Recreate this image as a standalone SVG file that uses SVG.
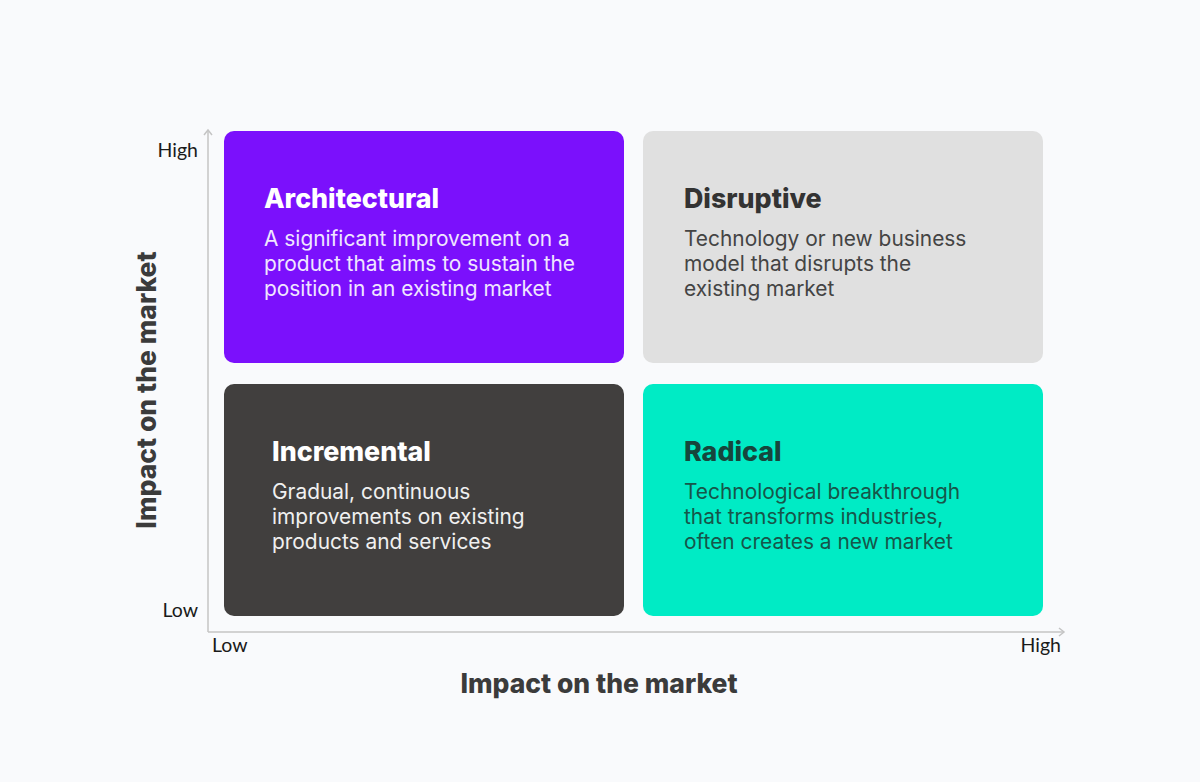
<svg xmlns="http://www.w3.org/2000/svg" width="1200" height="782" viewBox="0 0 1200 782">
<style>
.t{font-family:Inter,"Liberation Sans",sans-serif;font-weight:800;font-size:26.8px}
.b{font-family:Inter,"Liberation Sans",sans-serif;font-size:20.9px}
.tick{font-family:Lato,"Liberation Sans",sans-serif;font-size:19.5px;fill:#1a1a1a}
.ax{font-family:Inter,"Liberation Sans",sans-serif;font-weight:800;font-size:26.5px;fill:#3b3b3b}
.axis{stroke:#c4c4c4;stroke-width:1.5;fill:none}
</style>
<defs>
<marker id="chev" markerWidth="10" markerHeight="10" refX="7" refY="5" orient="auto" markerUnits="userSpaceOnUse">
<path d="M2,1 L7,5 L2,9" fill="none" stroke="#c4c4c4" stroke-width="1.5"/>
</marker>
</defs>
<rect width="1200" height="782" fill="#f9fafc"/>
<g id="connectors">
<line class="axis" x1="208" y1="632" x2="208" y2="130" marker-end="url(#chev)"/>
<line class="axis" x1="208" y1="632" x2="1064" y2="632" marker-end="url(#chev)"/>
</g>
<g id="architectural">
<rect x="224" y="131" width="400" height="232" rx="10" fill="#7b10fc"/>
<text class="t" x="264" y="208" fill="#ffffff">Architectural</text>
<text class="b" fill="#f0e6ff"><tspan x="264" y="246">A significant improvement on a</tspan><tspan x="264" y="271">product that aims to sustain the</tspan><tspan x="264" y="296">position in an existing market</tspan></text>
</g>
<g id="disruptive">
<rect x="643" y="131" width="400" height="232" rx="10" fill="#e0e0e0"/>
<text class="t" x="684" y="208" fill="#333333">Disruptive</text>
<text class="b" fill="#444444"><tspan x="684" y="246">Technology or new business</tspan><tspan x="684" y="271">model that disrupts the</tspan><tspan x="684" y="296">existing market</tspan></text>
</g>
<g id="incremental">
<rect x="224" y="384" width="400" height="232" rx="10" fill="#413f3e"/>
<text class="t" x="272" y="461" fill="#ffffff">Incremental</text>
<text class="b" fill="#f0f0f0"><tspan x="272" y="499">Gradual, continuous</tspan><tspan x="272" y="524">improvements on existing</tspan><tspan x="272" y="549">products and services</tspan></text>
</g>
<g id="radical">
<rect x="643" y="384" width="400" height="232" rx="10" fill="#00ebc5"/>
<text class="t" x="684" y="461" fill="#16463c">Radical</text>
<text class="b" fill="#16564a"><tspan x="684" y="499">Technological breakthrough</tspan><tspan x="684" y="524">that transforms industries,</tspan><tspan x="684" y="549">often creates a new market</tspan></text>
</g>
<g id="labels">
<text class="tick" x="198" y="157" text-anchor="end">High</text>
<text class="tick" x="198" y="617" text-anchor="end">Low</text>
<text class="tick" x="212" y="652">Low</text>
<text class="tick" x="1061" y="652" text-anchor="end">High</text>
<text class="ax" x="599" y="693" text-anchor="middle">Impact on the market</text>
<text class="ax" x="0" y="0" text-anchor="middle" transform="translate(156,390) rotate(-90)">Impact on the market</text>
</g>
</svg>
